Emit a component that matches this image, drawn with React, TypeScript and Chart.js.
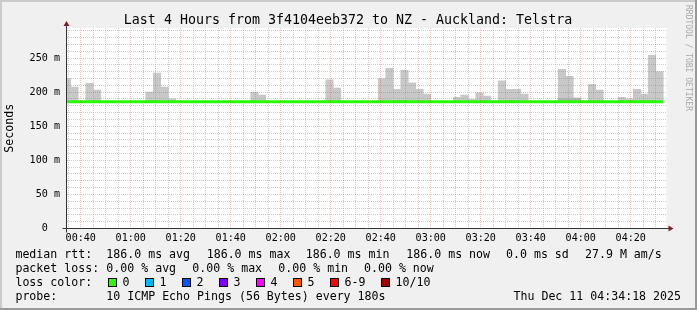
import React, { useEffect, useRef } from "react";
import { Chart, registerables } from "chart.js";

Chart.register(...registerables);

// ---- time range (minutes after midnight) ----
const START_MIN = 34.3; // 00:34:18
const END_MIN = 274.3; // 04:34:18
const BIN_START_MIN = 33; // first 3-minute (180 s) step starts at 00:33
const BIN_MINUTES = 3;

// ---- per-step smoke maximum (ms); null = no smoke above median ----
const smokeMax: (number | null)[] = [
  220, 207.5, null, 213, 203, null, null, null, null, null,
  null, 200, 228, 207.5, 190, null, null, null, null, null,
  null, null, null, null, null, 200, 195.5, null, null, null,
  null, null, null, null, null, 218, 206, null, null, null,
  null, null, 220, 235, 204, 232, 213.5, 204, 197, null,
  null, null, 192.5, 195.5, 189.5, 199, 194, null, 216.5, 204,
  204, 197, null, null, null, null, 233.5, 223, 191.5, null,
  211.5, 203, null, null, 192.5, 190, 204, 197, 254, 230,
];

// ---- darker inner smoke layer (ms) ----
const smokeDark: (number | null)[] = [
  null, null, null, null, null, null, null, null, null, null,
  null, null, null, null, null, null, null, null, null, null,
  null, null, null, null, null, null, null, null, null, null,
  null, null, null, null, null, null, null, null, null, null,
  null, null, null, null, null, null, null, null, null, null,
  null, null, null, null, null, null, null, null, null, null,
  null, null, null, null, null, null, 190.5, 190, 190, null,
  null, null, null, null, null, null, null, null, null, null,
];

// ---- median rtt per step (ms) ----
const medianRtt: number[] = [
  186, 186, 186, 186, 186, 186, 186, 186, 186, 186,
  186, 186, 186, 186, 186, 186, 186, 186, 186, 186,
  186, 186, 186, 186, 186, 186, 186, 186, 186, 186,
  186, 186, 186, 186, 186, 186, 186, 186, 186, 186,
  186, 186, 186, 186, 186, 186, 186, 186, 186, 186,
  186, 186, 186, 186, 186, 186, 186, 186, 186, 186,
  186, 186, 186, 186, 186, 186, 186, 186, 186, 186,
  186, 186, 186, 186, 186, 186, 186, 186, 186, 186,
];

// ---- axis ticks ----
const xTickLabels = [
  "00:40", "01:00", "01:20", "01:40", "02:00", "02:20",
  "02:40", "03:00", "03:20", "03:40", "04:00", "04:20",
];
const X_MINOR_STEP = 5;
const X_MAJOR_STEP = 20;
const yTickValues = [0, 50, 100, 150, 200, 250];
const yTickLabels = ["0  ", "50 m", "100 m", "150 m", "200 m", "250 m"];
const Y_MINOR_STEP = 10;
const Y_MAX = 294;

// ---- texts ----
const TITLE = "Last 4 Hours from 3f4104eeb372 to NZ - Auckland: Telstra";
const Y_TITLE = "Seconds";
const WATERMARK = "RRDTOOL / TOBI OETIKER";
const rttStats = ["186.0 ms avg", "186.0 ms max", "186.0 ms min", "186.0 ms now", "0.0 ms sd", "27.9 M am/s"];
const lossStats = ["0.00 % avg", "0.00 % max", "0.00 % min", "0.00 % now"];
const lossLabels = ["0", "1", "2", "3", "4", "5", "6-9", "10/10"];
const lossColors = ["#26ff00", "#00b8ff", "#0059ff", "#7e00ff", "#ff00ff", "#ff5500", "#ff0000", "#a10000"];
const PROBE = "10 ICMP Echo Pings (56 Bytes) every 180s";
const DATE = "Thu Dec 11 04:34:18 2025";

// ---- styles ----
const MONO = '"DejaVu Sans Mono", monospace';
const BACK = "#f0f0f0";
const SHADEA = "#cbcbcb";
const SHADEB = "#999999";
const GRID = "rgba(143,143,143,0.46)";
const MGRID = "rgba(232,38,38,0.31)";
const AXIS = "#333333";
const ARROW = "#7f1f1f";
const SMOKE = "#c8c8c8";
const SMOKE_DARK = "#b2b2b2";
const MEDIAN = "#26ff00";

function labelToMinutes(l: string) {
  const [h, m] = l.split(":").map((s) => parseInt(s, 10));
  return h * 60 + m;
}

const framePlugin = {
  id: "rrdFrame",
  beforeDraw(chart: any) {
    const { ctx, width, height, chartArea: a } = chart;
    ctx.save();
    ctx.fillStyle = BACK;
    ctx.fillRect(0, 0, width, height);
    ctx.fillStyle = SHADEA;
    ctx.fillRect(0, 0, width, 2);
    ctx.fillRect(0, 0, 2, height);
    ctx.fillStyle = SHADEB;
    ctx.fillRect(0, height - 2, width, 2);
    ctx.fillRect(width - 2, 0, 2, height);
    ctx.fillStyle = "#ffffff";
    ctx.fillRect(a.left, a.top, a.right - a.left, a.bottom - a.top);
    ctx.restore();
  },
  afterDraw(chart: any) {
    const { ctx, chartArea: a } = chart;
    const x0 = a.left, y0 = a.bottom, x1 = a.right, yt = a.top;
    ctx.save();
    // axes
    ctx.strokeStyle = AXIS;
    ctx.lineWidth = 1;
    ctx.beginPath();
    ctx.moveTo(x0 - 4, y0);
    ctx.lineTo(x1 + 4, y0);
    ctx.stroke();
    ctx.beginPath();
    ctx.moveTo(x0, y0 + 4);
    ctx.lineTo(x0, yt - 4);
    ctx.stroke();
    // arrows
    ctx.fillStyle = ARROW;
    ctx.beginPath();
    ctx.moveTo(x1 + 2, y0 - 3);
    ctx.lineTo(x1 + 2, y0 + 3);
    ctx.lineTo(x1 + 7, y0);
    ctx.closePath();
    ctx.fill();
    ctx.beginPath();
    ctx.moveTo(x0 - 3, yt - 2);
    ctx.lineTo(x0 + 3, yt - 2);
    ctx.lineTo(x0, yt - 7);
    ctx.closePath();
    ctx.fill();

    // title
    ctx.fillStyle = "#000";
    ctx.textBaseline = "alphabetic";
    ctx.textAlign = "center";
    ctx.font = `13.3px ${MONO}`;
    ctx.fillText(TITLE, 348, 24);

    // watermark
    ctx.save();
    ctx.translate(688.3, 5);
    ctx.rotate(Math.PI / 2);
    ctx.font = `8px ${MONO}`;
    ctx.fillStyle = "#a8a8a8";
    ctx.textAlign = "left";
    ctx.textBaseline = "middle";
    ctx.fillText(WATERMARK, 0, 0);
    ctx.restore();

    // legend
    ctx.font = `11.6px ${MONO}`;
    ctx.textAlign = "left";
    ctx.textBaseline = "alphabetic";
    ctx.fillStyle = "#000";
    const L1 = 258, L2 = 272, L3 = 286, L4 = 300;
    ctx.fillText("median rtt:", 15.4, L1);
    const rttX = [106.3, 206.7, 305.7, 406.3, 506, 585];
    rttStats.forEach((s, i) => ctx.fillText(s, rttX[i], L1));
    ctx.fillText("packet loss:", 15.4, L2);
    const lossX = [106.3, 192.3, 278.3, 364];
    lossStats.forEach((s, i) => ctx.fillText(s, lossX[i], L2));
    ctx.fillText("loss color:", 15.4, L3);
    const boxX = [108, 145, 182, 219, 256, 293, 330, 381];
    lossLabels.forEach((s, i) => {
      ctx.fillStyle = lossColors[i];
      ctx.fillRect(boxX[i], 278, 9, 9);
      ctx.strokeStyle = "#000";
      ctx.lineWidth = 1;
      ctx.strokeRect(boxX[i] + 0.5, 278.5, 8, 8);
      ctx.fillStyle = "#000";
      ctx.fillText(s, boxX[i] + 14.5, L3);
    });
    ctx.fillText("probe:", 15.4, L4);
    ctx.fillText(PROBE, 106.3, L4);
    ctx.textAlign = "right";
    ctx.fillText(DATE, 681, L4);
    ctx.restore();
  },
};

export default function App() {
  const ref = useRef<HTMLCanvasElement | null>(null);

  useEffect(() => {
    document.body.style.margin = "0";
    const canvas = ref.current;
    if (!canvas) return;

    const smokePts = smokeMax
      .map((v, i) => ({ x: BIN_START_MIN + BIN_MINUTES * (i + 0.5), y: v === null ? null : [medianRtt[i], v] }))
      .filter((p) => p.y !== null);
    const darkPts = smokeDark
      .map((v, i) => ({ x: BIN_START_MIN + BIN_MINUTES * (i + 0.5), y: v === null ? null : [medianRtt[i], v] }))
      .filter((p) => p.y !== null);
    const medianPts = medianRtt.map((v, i) => ({ x: BIN_START_MIN + BIN_MINUTES * i, y: v }));
    medianPts.push({ x: BIN_START_MIN + BIN_MINUTES * medianRtt.length, y: medianRtt[medianRtt.length - 1] });

    const xGrid: number[] = [];
    for (let v = Math.ceil(START_MIN / X_MINOR_STEP) * X_MINOR_STEP; v <= END_MIN; v += X_MINOR_STEP) xGrid.push(v);
    const yGrid: number[] = [];
    for (let v = 0; v <= Y_MAX; v += Y_MINOR_STEP) yGrid.push(v);
    const xMajor = new Map(xTickLabels.map((l) => [labelToMinutes(l), l]));

    const tickFont = { family: MONO, size: 10.1 };

    const chart = new Chart(canvas, {
      type: "bar",
      data: {
        datasets: [
          {
            type: "line",
            label: "median rtt",
            data: medianPts as any,
            borderColor: MEDIAN,
            borderWidth: 3,
            pointRadius: 0,
            stepped: true,
            fill: false,
            order: 0,
          } as any,
          {
            type: "bar",
            label: "smoke dark",
            data: darkPts as any,
            backgroundColor: SMOKE_DARK,
            borderWidth: 0,
            barPercentage: 1,
            categoryPercentage: 1,
            grouped: false,
            order: 1,
          } as any,
          {
            type: "bar",
            label: "smoke",
            data: smokePts as any,
            backgroundColor: SMOKE,
            borderWidth: 0,
            barPercentage: 1,
            categoryPercentage: 1,
            grouped: false,
            order: 2,
          } as any,
        ],
      },
      options: {
        responsive: false,
        animation: false,
        devicePixelRatio: 1,
        events: [],
        layout: { padding: { top: 28, right: 30.5, left: 0, bottom: 0 } },
        plugins: {
          legend: { display: false },
          tooltip: { enabled: false },
          title: { display: false },
        },
        scales: {
          x: {
            type: "linear",
            min: START_MIN,
            max: END_MIN,
            offset: false,
            afterBuildTicks: (s: any) => {
              s.ticks = xGrid.map((v) => ({ value: v }));
            },
            afterFit: (s: any) => {
              s.height = 81.5;
            },
            ticks: {
              autoSkip: false,
              maxRotation: 0,
              minRotation: 0,
              padding: 4,
              color: "#000",
              font: tickFont,
              callback: (v: any) => xMajor.get(Number(v)) ?? "",
            },
            grid: {
              offset: false,
              drawTicks: false,
              lineWidth: 1,
              z: 1,
              color: (c: any) => (c.tick && c.tick.value % X_MAJOR_STEP === 0 ? MGRID : GRID),
            },
            border: { display: false, dash: [1, 1] },
          },
          y: {
            type: "linear",
            min: 0,
            max: Y_MAX,
            afterBuildTicks: (s: any) => {
              s.ticks = yGrid.map((v) => ({ value: v }));
            },
            afterFit: (s: any) => {
              s.width = 66.5;
            },
            ticks: {
              autoSkip: false,
              padding: 6.5,
              color: "#000",
              font: tickFont,
              callback: (v: any) => {
                const i = yTickValues.indexOf(Number(v));
                return i >= 0 ? yTickLabels[i] : "";
              },
            },
            grid: {
              drawTicks: false,
              lineWidth: 1,
              z: 1,
              color: (c: any) => (c.tick && yTickValues.includes(c.tick.value) ? MGRID : GRID),
            },
            border: { display: false, dash: [1, 1] },
            title: {
              display: true,
              text: Y_TITLE,
              color: "#000",
              font: { family: MONO, size: 11.6 },
              padding: { top: 2.6, bottom: 0 },
            },
          },
        },
      } as any,
      plugins: [framePlugin],
    });

    return () => chart.destroy();
  }, []);

  return (
    <div style={{ width: 697, height: 310 }}>
      <canvas ref={ref} width={697} height={310} style={{ display: "block", width: 697, height: 310 }} />
    </div>
  );
}
